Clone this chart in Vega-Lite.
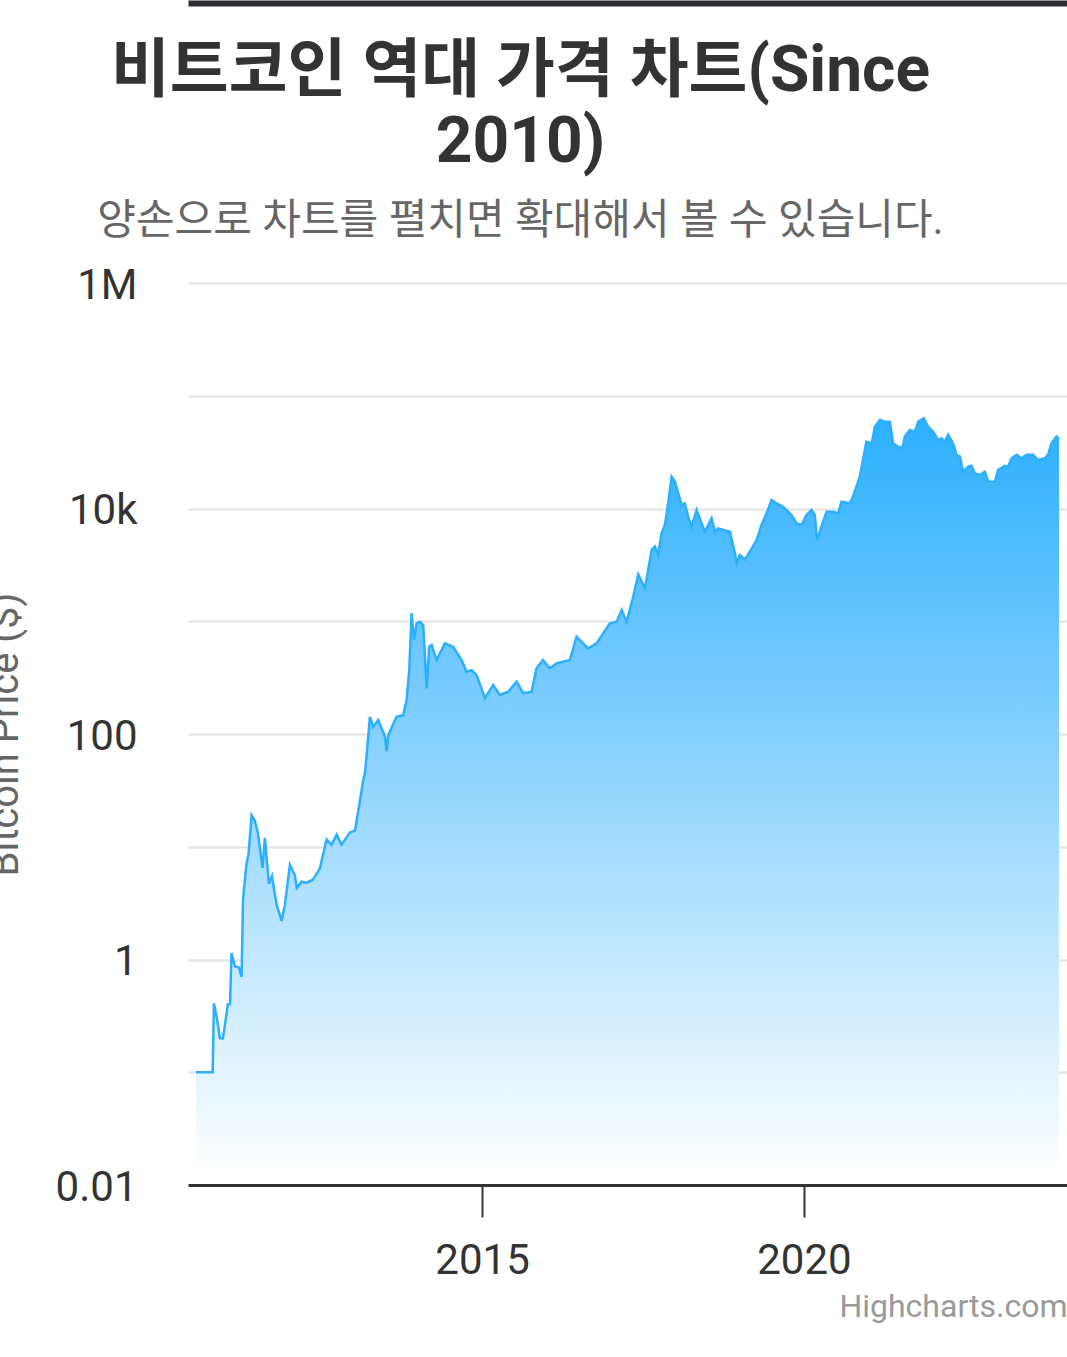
{
  "$schema": "https://vega.github.io/schema/vega-lite/v6.json",
  "autosize": {"type": "none"},
  "padding": {"left": 188, "top": 283, "right": 0, "bottom": 172},
  "width": 879,
  "height": 902,
  "background": "white",
  "title": {
    "text": ["비트코인 역대 가격 차트(Since", "2010)"],
    "subtitle": "양손으로 차트를 펼치면 확대해서 볼 수 있습니다.",
    "anchor": "middle",
    "frame": "group",
    "dx": -107,
    "dy": 262,
    "font": "Roboto, 'Noto Sans CJK KR', sans-serif",
    "fontSize": 64,
    "fontWeight": "bold",
    "lineHeight": 71,
    "color": "#333333",
    "subtitleFont": "Roboto, 'Noto Sans CJK KR', sans-serif",
    "subtitleFontSize": 42,
    "subtitleColor": "#666666",
    "subtitlePadding": 26,
    "offset": 23
  },
  "config": {
    "view": {"stroke": null},
    "font": "Roboto, 'Noto Sans CJK KR', sans-serif"
  },
  "resolve": {"axis": {"x": "independent"}},
  "data": {
    "values": [
      {"date": "2010-07-23", "price": 0.1},
      {"date": "2010-10-26", "price": 0.1},
      {"date": "2010-11-02", "price": 0.41},
      {"date": "2010-11-19", "price": 0.3},
      {"date": "2010-12-06", "price": 0.2},
      {"date": "2010-12-23", "price": 0.2},
      {"date": "2011-01-09", "price": 0.3},
      {"date": "2011-01-20", "price": 0.4},
      {"date": "2011-02-01", "price": 0.4},
      {"date": "2011-02-10", "price": 1.14},
      {"date": "2011-03-01", "price": 0.87},
      {"date": "2011-03-24", "price": 0.85},
      {"date": "2011-04-08", "price": 0.7},
      {"date": "2011-04-16", "price": 3.4},
      {"date": "2011-05-06", "price": 7.2},
      {"date": "2011-05-17", "price": 8.5},
      {"date": "2011-06-04", "price": 19},
      {"date": "2011-06-22", "price": 17},
      {"date": "2011-07-09", "price": 13.4},
      {"date": "2011-08-05", "price": 6.5},
      {"date": "2011-08-18", "price": 12},
      {"date": "2011-09-10", "price": 4.7},
      {"date": "2011-09-27", "price": 5.5},
      {"date": "2011-10-23", "price": 3.1},
      {"date": "2011-11-21", "price": 2.2},
      {"date": "2011-12-09", "price": 3},
      {"date": "2012-01-07", "price": 6.9},
      {"date": "2012-02-04", "price": 5.6},
      {"date": "2012-02-15", "price": 4.3},
      {"date": "2012-03-13", "price": 4.9},
      {"date": "2012-04-12", "price": 4.8},
      {"date": "2012-05-16", "price": 5.1},
      {"date": "2012-06-25", "price": 6.4},
      {"date": "2012-08-02", "price": 11.6},
      {"date": "2012-08-30", "price": 10.4},
      {"date": "2012-09-28", "price": 12.8},
      {"date": "2012-10-26", "price": 10.4},
      {"date": "2012-12-12", "price": 13.4},
      {"date": "2013-01-10", "price": 13.9},
      {"date": "2013-02-08", "price": 26},
      {"date": "2013-02-26", "price": 39},
      {"date": "2013-03-08", "price": 45},
      {"date": "2013-03-25", "price": 90},
      {"date": "2013-04-05", "price": 142},
      {"date": "2013-04-24", "price": 116},
      {"date": "2013-05-22", "price": 133},
      {"date": "2013-06-29", "price": 95},
      {"date": "2013-07-09", "price": 70},
      {"date": "2013-07-18", "price": 98},
      {"date": "2013-09-03", "price": 142},
      {"date": "2013-10-11", "price": 147},
      {"date": "2013-10-30", "price": 200},
      {"date": "2013-11-14", "price": 369},
      {"date": "2013-11-27", "price": 1178},
      {"date": "2013-12-11", "price": 682},
      {"date": "2013-12-26", "price": 960},
      {"date": "2014-01-14", "price": 990},
      {"date": "2014-02-01", "price": 927},
      {"date": "2014-02-21", "price": 254},
      {"date": "2014-03-07", "price": 594},
      {"date": "2014-03-21", "price": 615},
      {"date": "2014-04-18", "price": 453},
      {"date": "2014-06-04", "price": 637},
      {"date": "2014-07-21", "price": 594},
      {"date": "2014-09-07", "price": 453},
      {"date": "2014-10-05", "price": 357},
      {"date": "2014-11-03", "price": 369},
      {"date": "2014-12-01", "price": 333},
      {"date": "2015-01-17", "price": 208},
      {"date": "2015-03-05", "price": 272},
      {"date": "2015-04-12", "price": 222},
      {"date": "2015-05-29", "price": 237},
      {"date": "2015-07-16", "price": 291},
      {"date": "2015-08-22", "price": 230},
      {"date": "2015-10-09", "price": 237},
      {"date": "2015-11-06", "price": 382},
      {"date": "2015-12-13", "price": 453},
      {"date": "2016-01-20", "price": 382},
      {"date": "2016-02-27", "price": 423},
      {"date": "2016-05-13", "price": 453},
      {"date": "2016-06-20", "price": 730},
      {"date": "2016-07-27", "price": 637},
      {"date": "2016-08-25", "price": 575},
      {"date": "2016-10-11", "price": 637},
      {"date": "2016-12-26", "price": 960},
      {"date": "2017-02-03", "price": 990},
      {"date": "2017-03-03", "price": 1260},
      {"date": "2017-03-31", "price": 990},
      {"date": "2017-05-07", "price": 1650},
      {"date": "2017-06-05", "price": 2600},
      {"date": "2017-07-13", "price": 1960},
      {"date": "2017-08-20", "price": 4290},
      {"date": "2017-09-07", "price": 4590},
      {"date": "2017-09-26", "price": 3870},
      {"date": "2017-10-15", "price": 6030},
      {"date": "2017-11-03", "price": 7140},
      {"date": "2017-11-22", "price": 11120},
      {"date": "2017-12-11", "price": 19150},
      {"date": "2017-12-30", "price": 17300},
      {"date": "2018-01-18", "price": 13650},
      {"date": "2018-02-06", "price": 10740},
      {"date": "2018-02-24", "price": 11120},
      {"date": "2018-03-15", "price": 8460},
      {"date": "2018-04-03", "price": 6900},
      {"date": "2018-05-02", "price": 9700},
      {"date": "2018-05-30", "price": 7400},
      {"date": "2018-06-18", "price": 6230},
      {"date": "2018-07-26", "price": 8190},
      {"date": "2018-08-14", "price": 6230},
      {"date": "2018-09-01", "price": 6660},
      {"date": "2018-11-07", "price": 6230},
      {"date": "2018-12-05", "price": 4010},
      {"date": "2018-12-15", "price": 3270},
      {"date": "2019-01-02", "price": 3870},
      {"date": "2019-01-31", "price": 3540},
      {"date": "2019-02-28", "price": 4140},
      {"date": "2019-04-07", "price": 5250},
      {"date": "2019-05-05", "price": 7140},
      {"date": "2019-06-03", "price": 9060},
      {"date": "2019-07-01", "price": 11890},
      {"date": "2019-07-29", "price": 11120},
      {"date": "2019-09-04", "price": 10370},
      {"date": "2019-10-03", "price": 9380},
      {"date": "2019-10-22", "price": 8750},
      {"date": "2019-11-20", "price": 7400},
      {"date": "2019-12-18", "price": 7140},
      {"date": "2020-01-15", "price": 8750},
      {"date": "2020-02-13", "price": 9700},
      {"date": "2020-03-02", "price": 8750},
      {"date": "2020-03-16", "price": 5250},
      {"date": "2020-04-09", "price": 6900},
      {"date": "2020-05-08", "price": 9380},
      {"date": "2020-06-14", "price": 9380},
      {"date": "2020-07-13", "price": 9060},
      {"date": "2020-08-01", "price": 11500},
      {"date": "2020-09-17", "price": 11120},
      {"date": "2020-10-05", "price": 12740},
      {"date": "2020-11-13", "price": 19150},
      {"date": "2020-12-20", "price": 39200},
      {"date": "2021-01-19", "price": 37800},
      {"date": "2021-02-06", "price": 53200},
      {"date": "2021-03-07", "price": 61000},
      {"date": "2021-04-04", "price": 58900},
      {"date": "2021-05-02", "price": 58900},
      {"date": "2021-05-21", "price": 37800},
      {"date": "2021-06-18", "price": 35300},
      {"date": "2021-07-13", "price": 34600},
      {"date": "2021-07-26", "price": 43400},
      {"date": "2021-08-24", "price": 49700},
      {"date": "2021-09-21", "price": 48000},
      {"date": "2021-10-10", "price": 58900},
      {"date": "2021-11-11", "price": 63100},
      {"date": "2021-12-05", "price": 53200},
      {"date": "2022-01-03", "price": 48000},
      {"date": "2022-01-31", "price": 40500},
      {"date": "2022-02-19", "price": 42000},
      {"date": "2022-03-10", "price": 39200},
      {"date": "2022-03-29", "price": 44900},
      {"date": "2022-04-26", "price": 37800},
      {"date": "2022-05-15", "price": 29900},
      {"date": "2022-06-03", "price": 29000},
      {"date": "2022-06-22", "price": 21200},
      {"date": "2022-07-20", "price": 23500},
      {"date": "2022-08-08", "price": 23900},
      {"date": "2022-08-27", "price": 20500},
      {"date": "2022-09-25", "price": 19800},
      {"date": "2022-10-23", "price": 21200},
      {"date": "2022-11-11", "price": 17300},
      {"date": "2022-12-19", "price": 17300},
      {"date": "2023-01-06", "price": 21900},
      {"date": "2023-02-13", "price": 23900},
      {"date": "2023-03-04", "price": 23500},
      {"date": "2023-03-23", "price": 27900},
      {"date": "2023-04-21", "price": 29900},
      {"date": "2023-05-19", "price": 27900},
      {"date": "2023-06-16", "price": 29900},
      {"date": "2023-07-24", "price": 29900},
      {"date": "2023-08-21", "price": 26900},
      {"date": "2023-09-28", "price": 27900},
      {"date": "2023-10-16", "price": 29900},
      {"date": "2023-11-05", "price": 37800},
      {"date": "2023-12-03", "price": 43400},
      {"date": "2023-12-18", "price": 41500}
    ]
  },
  "encoding": {
    "y": {
      "field": "price",
      "type": "quantitative",
      "scale": {"type": "log", "domain": [0.01, 1000000], "nice": false},
      "axis": {
        "values": [0.01, 0.1, 1, 10, 100, 1000, 10000, 100000, 1000000],
        "labelExpr": "datum.value == 1000000 ? '1M' : datum.value == 10000 ? '10k' : datum.value == 100 ? '100' : datum.value == 1 ? '1' : datum.value == 0.01 ? '0.01' : ''",
        "domain": false,
        "ticks": false,
        "tickSize": 0,
        "grid": true,
        "gridColor": "#e6e6e6",
        "gridWidth": 2.5,
        "labelFontSize": 42,
        "labelColor": "#333333",
        "labelPadding": 51,
        "labelOffset": 2,
        "labelBaseline": "middle",
        "title": "Bitcoin Price ($)",
        "titleFontSize": 40,
        "titleFontWeight": "normal",
        "titleColor": "#666666",
        "titlePadding": 30
      }
    }
  },
  "layer": [
    {
      "mark": {
        "type": "area",
        "color": {
          "gradient": "linear",
          "x1": 0, "y1": 0, "x2": 0, "y2": 1,
          "stops": [
            {"offset": 0, "color": "#2caffe"},
            {"offset": 1, "color": "#ffffff"}
          ]
        }
      },
      "encoding": {
        "x": {
          "field": "date",
          "type": "temporal",
          "scale": {"domain": ["2010-06-08", "2024-02-01"], "nice": false},
          "axis": {
            "orient": "bottom",
            "values": [{"year": 2015, "month": 1, "date": 1}, {"year": 2020, "month": 1, "date": 1}],
            "format": "%Y",
            "grid": false,
            "domainColor": "#333333",
            "domainWidth": 3,
            "tickColor": "#333333",
            "tickWidth": 2,
            "tickSize": 32,
            "labelFontSize": 42,
            "labelColor": "#333333",
            "labelPadding": 23,
            "labelFlush": false,
            "title": "Highcharts.com",
            "titleAnchor": "end",
            "titleFontSize": 32,
            "titleFontWeight": "normal",
            "titleColor": "#999999",
            "titlePadding": 10
          }
        },
        "y2": {"datum": 0.0128}
      }
    },
    {
      "mark": {"type": "line", "color": "#2caffe", "strokeWidth": 2.5},
      "encoding": {
        "x": {
          "field": "date",
          "type": "temporal",
          "axis": {
            "orient": "top",
            "offset": 280,
            "domain": true,
            "domainColor": "#2e2d34",
            "domainWidth": 6,
            "ticks": false,
            "labels": false,
            "grid": false,
            "title": null
          }
        }
      }
    }
  ]
}
